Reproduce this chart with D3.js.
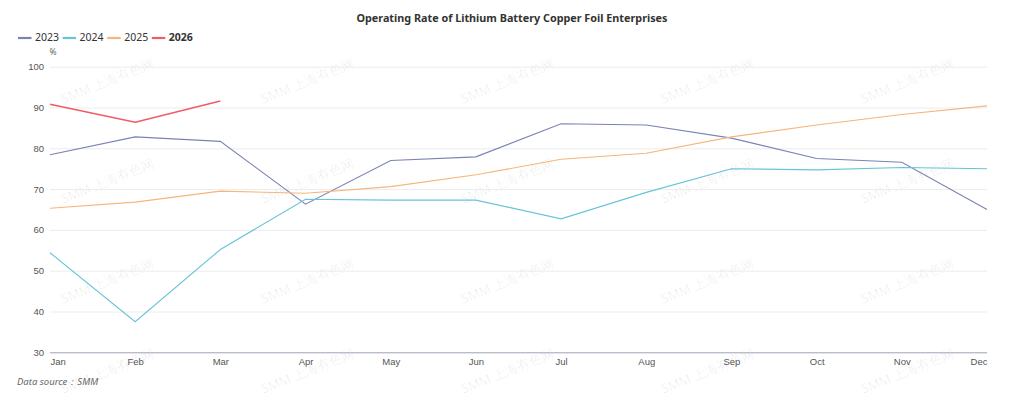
<!DOCTYPE html>
<html>
<head>
<meta charset="utf-8">
<script src="https://cdn.jsdelivr.net/npm/d3@7/dist/d3.min.js"></script>
<style>
  body { margin: 0; background: #fff; }
  svg { display: block; font-family: "Noto Sans", "Open Sans", sans-serif; }
</style>
</head>
<body>
<svg id="chart"></svg>
<script>
var width = 1024, height = 399;
var margin = {top: 66.7, left: 50, right: 37, bottom: 46.7};

let months = ["Jan","Feb","Mar","Apr","May","Jun","Jul","Aug","Sep","Oct","Nov","Dec"];
let years = ["2023","2024","2025","2026"];
let colors = ["#7a82b4","#68c4d6","#f6b57c","#f25a68"];
let yTicks = [30,40,50,60,70,80,90,100];

// operating rate, %
let rate2023 = [78.4,82.8,81.7,66.3,77.0,77.9,86.0,85.7,82.5,77.5,76.6,65.0];
let rate2024 = [54.4,37.5,55.2,67.5,67.3,67.3,62.7,69.2,75.0,74.7,75.3,75.0];
let rate2025 = [65.3,66.8,69.5,69.0,70.6,73.5,77.3,78.8,82.8,85.7,88.3,90.4];
let rate2026 = [90.8,86.4,91.6];

let series = [rate2023, rate2024, rate2025, rate2026];

let svg = d3.select('#chart')
    .attr('width', width)
    .attr('height', height);

// watermark
let wmRows = [82, 182, 282, 372];
let wm = svg.append('g').attr('class','watermark');
wmRows.forEach(function(ry) {
  for (let c = 0; c < 5; c++) {
    wm.append('text')
      .attr('transform', 'translate(' + (108 + c*200) + ',' + ry + ') rotate(-22)')
      .attr('text-anchor','middle')
      .attr('dominant-baseline','middle')
      .attr('font-size', 13)
      .attr('fill', 'rgba(0,0,0,0.07)')
      .text('SMM 上海有色网');
  }
});

var x = d3.scalePoint()
    .domain(months)
    .range([margin.left, width - margin.right]);

var y = d3.scaleLinear()
    .domain([30, 100])
    .range([height - margin.bottom, margin.top]);

// grid + y labels
let yAxis = d3.axisLeft(y)
    .tickValues(yTicks)
    .tickSize(-(width - margin.left - margin.right))
    .tickPadding(6);

let gy = svg.append('g')
    .attr('transform', 'translate(' + margin.left + ',0)')
    .call(yAxis);
gy.select('.domain').remove();
gy.selectAll('.tick line')
    .attr('stroke', d => d == 30 ? '#9ea3b4' : '#ececec')
    .attr('stroke-width', 1);
gy.selectAll('.tick text')
    .attr('font-size', 9.5)
    .attr('fill', '#555');

// x labels
let xAxis = d3.axisBottom(x).tickSize(0).tickPadding(6);
let gx = svg.append('g')
    .attr('transform', 'translate(0,' + y(30) + ')')
    .call(xAxis);
gx.select('.domain').remove();
gx.selectAll('.tick text')
    .attr('font-size', 9.5)
    .attr('fill', '#555')
    .attr('text-anchor', (d, i) => i == 0 ? 'start' : (i == months.length - 1 ? 'end' : 'middle'));

// unit
svg.append('text')
    .attr('x', 53).attr('y', 53)
    .attr('text-anchor','middle')
    .attr('dominant-baseline','middle')
    .attr('font-size', 8.5)
    .attr('fill', '#666')
    .text('%');

// lines
var line = d3.line()
    .x((d, i) => x(months[i]))
    .y(d => y(d));

svg.selectAll('.rate')
    .data(series)
    .enter()
    .append('path')
    .attr('class','rate')
    .attr('d', line)
    .attr('fill','none')
    .attr('stroke', (d, i) => colors[i])
    .attr('stroke-width', (d, i) => i == 3 ? 1.6 : 1.1);

// title
svg.append('text')
    .attr('x', 512).attr('y', 19)
    .attr('text-anchor','middle')
    .attr('dominant-baseline','middle')
    .attr('font-size', 10.8)
    .attr('font-weight','bold')
    .attr('fill','#333')
    .text('Operating Rate of Lithium Battery Copper Foil Enterprises');

// legend
let legend = svg.selectAll('.legend')
    .data(years)
    .enter()
    .append('g')
    .attr('class','legend')
    .attr('transform', (d, i) => 'translate(' + (18 + i*44.6) + ',38)');

legend.append('line')
    .attr('x1', 0).attr('x2', 13.5)
    .attr('stroke', (d, i) => colors[i])
    .attr('stroke-width', 2.2);

legend.append('text')
    .attr('x', 17)
    .attr('dominant-baseline','middle')
    .attr('font-size', 10.5)
    .attr('fill', '#333')
    .attr('font-weight', (d, i) => i == 3 ? 'bold' : 'normal')
    .text(d => d);

// source
svg.append('text')
    .attr('x', 17).attr('y', 382)
    .attr('dominant-baseline','middle')
    .attr('font-size', 9.5)
    .attr('font-style','italic')
    .attr('fill','#666')
    .text('Data source：SMM');
</script>
</body>
</html>
